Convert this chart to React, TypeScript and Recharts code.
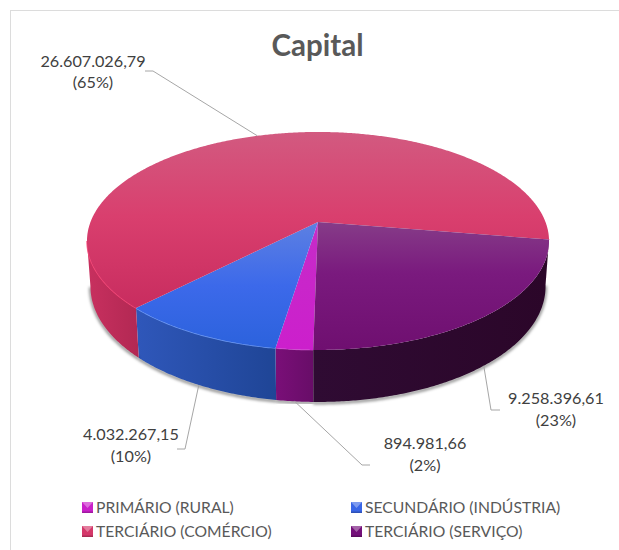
import React from "react";
import { PieChart, Pie, Legend } from "recharts";

const CATEGORIES = ["PRIMÁRIO (RURAL)", "SECUNDÁRIO (INDÚSTRIA)", "TERCIÁRIO (COMÉRCIO)", "TERCIÁRIO (SERVIÇO)"];
const VALUES = [894981.66, 4032267.15, 26607026.79, 9258396.61];
const COLORS = ["#c920c9", "#3a66e6", "#d4386a", "#74107a"];

const TABLE = CATEGORIES.map((name, i) => ({ name, value: VALUES[i], fill: COLORS[i] }));

// layout / style
const W = 619;
const H = 550;
const CX = 318;
const CY = 222;
const RADIUS = 227.5;
const TILT = 0.4646; // vertical squash of the disc
const PERSP = 0.174; // perspective strength
const START = 269;
const END = -91;

const GRAD_TOP: string[][][] = [
  [["0", "#c62cc8"], ["1", "#cc1fcc"]],
  [["0", "#5d80e2"], ["0.5", "#3c69ea"], ["1", "#2b62dc"]],
  [["0", "#d25a80"], ["0.45", "#d93f6e"], ["1", "#c62a5d"]],
  [["0", "#863c88"], ["0.4", "#7a1a7e"], ["1", "#6f0f70"]],
];
const GRAD_RANGE = [
  [222, 350],
  [222, 350],
  [132, 320],
  [222, 350],
];
const WALL: string[][] = [
  ["#7a0f78", "#680d68"],
  ["#2f57ba", "#1f4596"],
  ["#c8305f", "#b22853"],
  ["#2f0b33", "#2b0629"],
];
const RIM = ["rgba(255,120,255,.35)", "rgba(120,165,255,.8)", "rgba(255,70,120,.85)", "rgba(255,255,255,0)"];
const LABEL_LAYOUT = [
  { onWall: true, elbow: [362, 465], end: [370, 465], x: 425, y: 449 },
  { onWall: true, elbow: [185, 449], end: [177, 449], x: 131, y: 440 },
  { onWall: false, elbow: [153, 71], end: [145, 71], x: 93, y: 66.5 },
  { onWall: true, elbow: [491, 410], end: [500, 410], x: 556, y: 404 },
];

const project = (cx: number, cy: number, r: number, deg: number) => {
  const a = (deg * Math.PI) / 180;
  const u = Math.cos(a);
  const v = Math.sin(a);
  const w = 1 + PERSP * v;
  return { x: cx + (r * u) / w, y: cy - (r * TILT * v) / w, v };
};
const lower = (cx: number, p: { x: number; y: number; v: number }) => ({
  x: cx + (p.x - cx) * 0.985,
  y: p.y + 44 + 8 * Math.max(0, -p.v),
});
const samples = (from: number, to: number) => {
  const n = Math.max(2, Math.ceil(Math.abs(from - to) * 2));
  return Array.from({ length: n + 1 }, (_, i) => from + ((to - from) * i) / n);
};
const line = (pts: { x: number; y: number }[]) =>
  pts.map((p, i) => `${i ? "L" : "M"}${p.x.toFixed(2)} ${p.y.toFixed(2)}`).join(" ");

const SliceShape = (props: any) => {
  const { cx, cy, outerRadius, startAngle, endAngle, index } = props;
  const hi = Math.max(startAngle, endAngle);
  const lo = Math.min(startAngle, endAngle);
  const top = samples(hi, lo).map((d) => project(cx, cy, outerRadius, d));
  const wallParts: React.ReactNode[] = [];
  [0, -360].forEach((shift, k) => {
    const a = Math.min(hi, -9 - shift);
    const b = Math.max(lo, -170 - shift);
    if (a <= b) return;
    const rim = samples(a, b).map((d) => project(cx, cy, outerRadius, d));
    const base = rim.map((p) => lower(cx, p));
    const path = line([...rim, ...[...base].reverse()]) + " Z";
    const id = `wall-${index}-${k}`;
    const xs = [...rim, ...base].map((p) => p.x);
    wallParts.push(
      <g key={k}>
        <defs>
          <linearGradient id={id} gradientUnits="userSpaceOnUse" x1={Math.min(...xs)} x2={Math.max(...xs)} y1={0} y2={0}>
            <stop offset="0" stopColor={WALL[index][0]} />
            <stop offset="1" stopColor={WALL[index][1]} />
          </linearGradient>
        </defs>
        <path d={line(base)} fill="none" stroke="rgba(0,0,0,.5)" strokeWidth={2.5} filter="url(#soft)" transform="translate(0 1)" />
        <path d={path} fill={`url(#${id})`} />
        <path d={line(rim)} fill="none" stroke={RIM[index]} strokeWidth={1.4} />
      </g>
    );
  });
  return (
    <g>
      {wallParts}
      <path d={`M${cx} ${cy} ${line(top).replace(/^M/, "L")} Z`} fill={`url(#top-${index})`} />
    </g>
  );
};

const formatValue = (n: number) => {
  const [i, d] = n.toFixed(2).split(".");
  return `${i.replace(/\B(?=(\d{3})+$)/g, ".")},${d}`;
};

const SliceLabel = (props: any) => {
  const { cx, cy, outerRadius, midAngle, value, percent, index } = props;
  const lay = LABEL_LAYOUT[index];
  let p: { x: number; y: number; v: number } = project(cx, cy, outerRadius, midAngle);
  if (lay.onWall) p = { ...lower(cx, p), v: p.v };
  const d = `M${p.x} ${p.y} L${lay.elbow[0]} ${lay.elbow[1]} L${lay.end[0]} ${lay.end[1]}`;
  return (
    <g>
      <path d={d} fill="none" stroke="#a6a6a6" strokeWidth={1} />
      <text x={lay.x} y={lay.y} textAnchor="middle" fontFamily="Lato" fontSize={16.2} fill="#404040">
        <tspan x={lay.x}>{formatValue(value)}</tspan>
        <tspan x={lay.x} dy={21.5}>{`(${Math.round(percent * 100)}%)`}</tspan>
      </text>
    </g>
  );
};

const Swatch = ({ color }: { color: string }) => (
  <svg width={11} height={11} style={{ display: "block", flex: "none" }}>
    <rect x={0} y={0} width={11} height={11} fill={color} />
    <polygon points="0,0 11,0 5.5,6" fill="#ffffff" opacity={0.35} />
    <rect x={0} y={9.5} width={11} height={1.5} fill="#000000" opacity={0.2} />
  </svg>
);

const LegendContent = (props: any) => {
  const items = props.payload ?? [];
  return (
    <div
      style={{
        display: "grid",
        gridTemplateColumns: "269px 260px",
        rowGap: 3,
        fontFamily: "Lato",
        fontSize: 15.7,
        lineHeight: "21px",
        color: "#595959",
      }}
    >
      {items.map((it: any) => (
        <div key={it.value} style={{ display: "flex", alignItems: "center", gap: 3, whiteSpace: "nowrap" }}>
          <Swatch color={it.color} />
          <span>{it.value}</span>
        </div>
      ))}
    </div>
  );
};

export default function App() {
  return (
    <div style={{ position: "absolute", left: 0, top: 0, width: W, height: H, background: "#fff", overflow: "hidden" }}>
      <div
        style={{
          position: "absolute",
          left: 10,
          top: 10,
          width: W,
          height: H,
          borderTop: "1.5px solid #dcdcdc",
          borderLeft: "1.5px solid #dcdcdc",
          boxSizing: "border-box",
        }}
      />
      <PieChart width={W} height={H} margin={{ top: 0, right: 0, bottom: 0, left: 0 }} style={{ position: "absolute", left: 0, top: 0 }}>
        <defs>
          <filter id="soft" x="-20%" y="-20%" width="140%" height="140%">
            <feGaussianBlur stdDeviation={1.6} />
          </filter>
          {GRAD_TOP.map((stops, i) => (
            <linearGradient key={i} id={`top-${i}`} gradientUnits="userSpaceOnUse" x1={0} x2={0} y1={GRAD_RANGE[i][0]} y2={GRAD_RANGE[i][1]}>
              {stops.map(([o, c]) => (
                <stop key={o} offset={o} stopColor={c} />
              ))}
            </linearGradient>
          ))}
        </defs>
        <text x={317.5} y={55.5} textAnchor="middle" fontFamily="Lato" fontWeight={700} fontSize={29.5} fill="#595959">
          Capital
        </text>
        <Pie
          data={TABLE}
          dataKey="value"
          nameKey="name"
          cx={CX}
          cy={CY}
          innerRadius={0}
          outerRadius={RADIUS}
          startAngle={START}
          endAngle={END}
          stroke="none"
          isAnimationActive={false}
          shape={SliceShape}
          label={SliceLabel}
          labelLine={false}
        />
        <Legend
          content={LegendContent}
          wrapperStyle={{ position: "absolute", left: 82, top: 497, width: 530, bottom: "auto", height: 46 }}
        />
      </PieChart>
    </div>
  );
}
